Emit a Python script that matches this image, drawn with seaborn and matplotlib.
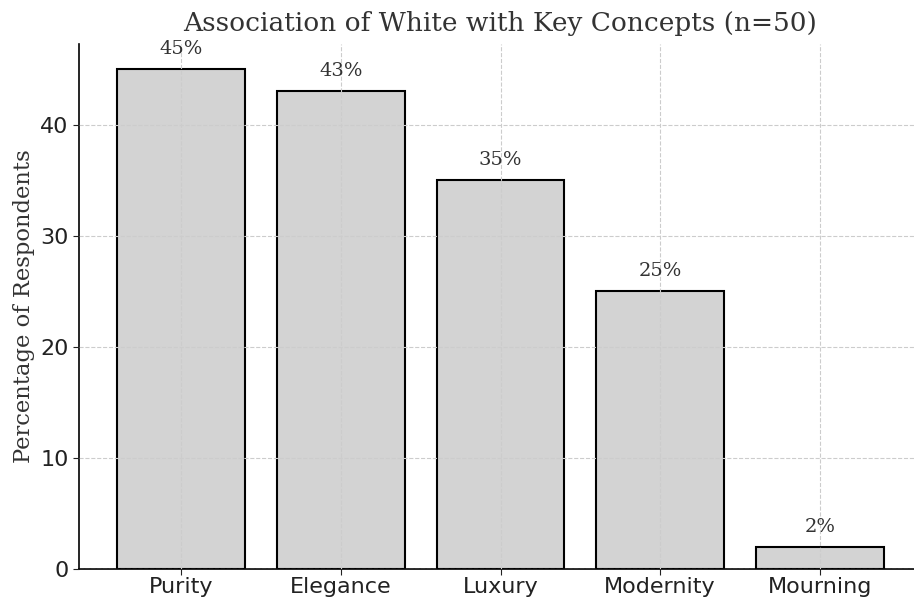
import matplotlib
matplotlib.use("Agg")
import matplotlib.pyplot as plt
import seaborn as sns
import pandas as pd

concepts = ["Purity", "Elegance", "Luxury", "Modernity", "Mourning"]
percentages = [45, 43, 35, 25, 2]

df = pd.DataFrame({"Concept": concepts, "Percentage": percentages})

sns.set_style("whitegrid", {"grid.linestyle": "--", "grid.color": "#cccccc"})

fig = plt.figure(figsize=(9.14, 6.01), dpi=100)
ax = fig.add_axes([79 / 914, 32 / 601, 843 / 914, 525 / 601])

sns.barplot(data=df, x="Concept", y="Percentage", ax=ax, color="#d3d3d3",
            edgecolor="black", linewidth=1.5, width=0.8, saturation=1)

ax.set_xlim(-0.64, 4.64)
ax.set_ylim(0, 47.25)
ax.grid(True, axis="both", linestyle="--", color="#cccccc", linewidth=0.8)
ax.set_axisbelow(False)
for line in ax.get_xgridlines() + ax.get_ygridlines():
    line.set_zorder(2.5)
for p in ax.patches:
    p.set_zorder(2)

for i, v in enumerate(percentages):
    ax.text(i, v + 1, f"{v}%", ha="center", va="bottom", fontsize=14,
            family="DejaVu Serif", color="#333333")

ax.set_title("Association of White with Key Concepts (n=50)", fontsize=19,
             family="DejaVu Serif", color="#333333", pad=9)
ax.set_xlabel("")
ax.set_ylabel("Percentage of Respondents", fontsize=16.3, family="DejaVu Serif",
              color="#333333", labelpad=4)
ax.tick_params(axis="both", labelsize=16, colors="#222222", length=4,
               left=True, bottom=True)
ax.tick_params(axis="x", pad=2)
ax.set_yticks([0, 10, 20, 30, 40])

for s in ["top", "right"]:
    ax.spines[s].set_visible(False)
for s in ["left", "bottom"]:
    ax.spines[s].set_color("black")
    ax.spines[s].set_linewidth(1.2)

fig.savefig("out.png", dpi=100)
